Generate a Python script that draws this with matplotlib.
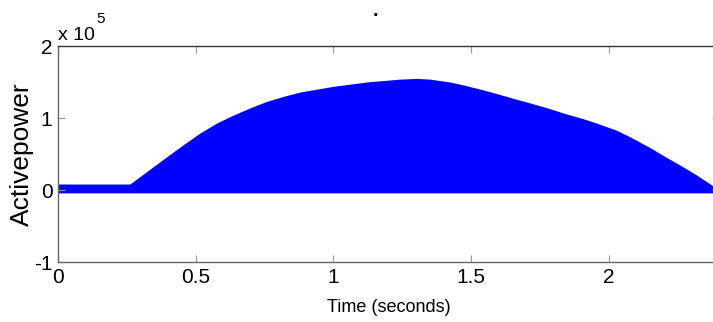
import matplotlib
matplotlib.use("Agg")
import matplotlib.pyplot as plt

# envelope of the active power signal (units of 1e5)
t_env = [0.0, 0.261, 0.334, 0.394, 0.455, 0.515, 0.576, 0.636, 0.697, 0.757,
         0.818, 0.878, 0.939, 1.0, 1.06, 1.12, 1.181, 1.241, 1.302, 1.35,
         1.423, 1.471, 1.544, 1.592, 1.665, 1.713, 1.786, 1.834, 1.907, 1.955,
         2.028, 2.076, 2.149, 2.197, 2.27, 2.318, 2.377, 2.40]
p_top = [0.083, 0.083, 0.29, 0.46, 0.63, 0.79, 0.93, 1.04, 1.14, 1.23,
         1.30, 1.36, 1.40, 1.44, 1.47, 1.50, 1.52, 1.54, 1.55, 1.54,
         1.50, 1.46, 1.39, 1.34, 1.26, 1.21, 1.13, 1.07, 0.99, 0.93,
         0.83, 0.74, 0.59, 0.48, 0.32, 0.21, 0.06, 0.02]
p_bottom = [-0.04] * len(t_env)

x_ticks = [0, 0.5, 1, 1.5, 2]
x_labels = ['0', '0.5', '1', '1.5', '2']
y_ticks = [-1, 0, 1, 2]

plt.rcParams['font.family'] = ['Liberation Sans', 'DejaVu Sans']
plt.rcParams['axes.unicode_minus'] = False

fig = plt.figure(figsize=(7.13, 3.22), dpi=100)
ax = fig.add_axes([58 / 713, 60 / 322, 661 / 713, 216 / 322])

ax.fill_between(t_env, p_bottom, p_top, color='#0000ff', linewidth=0)

ax.set_xlim(0, 2.4)
ax.set_ylim(-1, 2)
ax.set_xticks(x_ticks)
ax.set_xticklabels(x_labels)
ax.set_yticks(y_ticks)
ax.tick_params(direction='in', top=True, right=True, length=5, width=0.8,
               color='#999999', labelsize=15, pad=4)
for s in ax.spines.values():
    s.set_color('#666666')
    s.set_linewidth(1.0)
ax.spines['top'].set_color('#333333')

ax.set_xlabel('Time (seconds)', fontsize=13, labelpad=9)
ax.set_ylabel('Activepower', fontsize=19, labelpad=0)

fig.text(58 / 713, 1 - 36 / 322, 'x 10', fontsize=14, ha='left', va='center')
fig.text(96 / 713, 1 - 19 / 322, '5', fontsize=11, ha='left', va='center')
fig.text(375 / 713, 1 - 11 / 322, '.', fontsize=14, ha='center', va='center',
         fontweight='bold')

fig.savefig('out.png', dpi=100)
